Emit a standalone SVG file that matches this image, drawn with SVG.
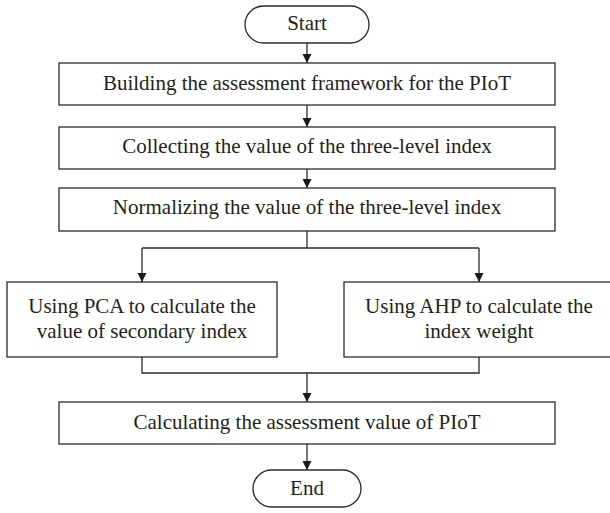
<svg xmlns="http://www.w3.org/2000/svg" width="610" height="513" viewBox="0 0 610 513">
<style>
.box{fill:#fff;stroke:#2b2b2b;stroke-width:1.3}
.t{font-family:"Liberation Serif","Times New Roman",serif;font-size:21px;fill:#231f20;text-anchor:middle}
.c{fill:none;stroke:#2b2b2b;stroke-width:1.3}
</style>
<defs>
<marker id="ah" viewBox="0 0 10 10" refX="10" refY="5" markerWidth="9" markerHeight="10" markerUnits="userSpaceOnUse" orient="auto">
<path d="M0,0 L10,5 L0,10 z" fill="#1a1a1a"/>
</marker>
</defs>
<rect width="610" height="513" fill="#fff"/>
<g id="connectors">
<line class="c" x1="307" y1="43" x2="307" y2="63" marker-end="url(#ah)"/>
<line class="c" x1="307" y1="105" x2="307" y2="127" marker-end="url(#ah)"/>
<line class="c" x1="307" y1="169" x2="307" y2="188" marker-end="url(#ah)"/>
<polyline class="c" points="307,231 307,248"/>
<polyline class="c" points="142,248 479,248"/>
<line class="c" x1="142" y1="248" x2="142" y2="282" marker-end="url(#ah)"/>
<line class="c" x1="479" y1="248" x2="479" y2="282" marker-end="url(#ah)"/>
<polyline class="c" points="142,357 142,373 479,373 479,357"/>
<line class="c" x1="307" y1="373" x2="307" y2="402" marker-end="url(#ah)"/>
<line class="c" x1="307" y1="444" x2="307" y2="470" marker-end="url(#ah)"/>
</g>
<g id="start">
<rect class="box" x="245" y="6" width="124" height="37" rx="18.5"/>
<text class="t" x="307" y="30">Start</text>
</g>
<g id="build">
<rect class="box" x="59" y="63" width="496" height="42"/>
<text class="t" x="307" y="90">Building the assessment framework for the PIoT</text>
</g>
<g id="collect">
<rect class="box" x="59" y="127" width="496" height="42"/>
<text class="t" x="307" y="153">Collecting the value of the three-level index</text>
</g>
<g id="normalize">
<rect class="box" x="59" y="188" width="496" height="43"/>
<text class="t" x="307" y="214">Normalizing the value of the three-level index</text>
</g>
<g id="pca">
<rect class="box" x="7" y="282" width="270" height="75"/>
<text class="t" x="142" y="313">Using PCA to calculate the</text>
<text class="t" x="142" y="338">value of secondary index</text>
</g>
<g id="ahp">
<rect class="box" x="344" y="282" width="270" height="75"/>
<text class="t" x="479" y="313">Using AHP to calculate the</text>
<text class="t" x="479" y="338">index weight</text>
</g>
<g id="calc">
<rect class="box" x="59" y="402" width="496" height="42"/>
<text class="t" x="307" y="429">Calculating the assessment value of PIoT</text>
</g>
<g id="end">
<rect class="box" x="253" y="470" width="108" height="37" rx="18.5"/>
<text class="t" x="307" y="495">End</text>
</g>
</svg>
